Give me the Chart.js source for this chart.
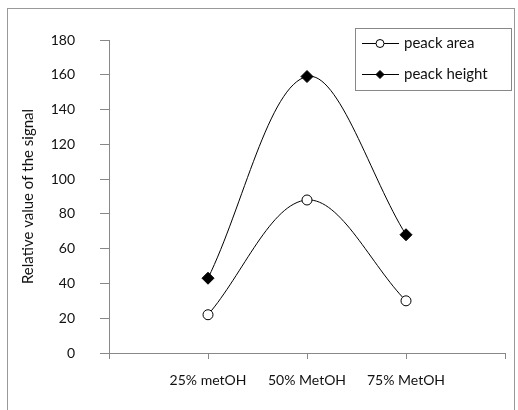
<!DOCTYPE html>
<html>
<head>
<meta charset="utf-8">
<script src="https://cdn.jsdelivr.net/npm/chart.js@4"></script>
<style>
  html, body { margin: 0; padding: 0; background: #fff; }
  #wrap { width: 518px; height: 410px; position: relative; }
</style>
</head>
<body>
<div id="wrap"><canvas id="grafico"></canvas></div>
<script>
// Dados do gráfico
const categorias = ['25% metOH', '50% MetOH', '75% MetOH'];
const posicoes = [1, 2, 3];
const peackArea = [22, 88, 30];
const peackHeight = [43, 159, 68];
const ticksY = [0, 20, 40, 60, 80, 100, 120, 140, 160, 180];

const fonte = 'Lato, "Open Sans", sans-serif';

// Moldura externa e legenda dentro do gráfico
const molduraPlugin = {
    id: 'moldura',
    afterDraw(chart) {
        const ctx = chart.ctx;
        ctx.save();
        ctx.strokeStyle = '#999';
        ctx.lineWidth = 1;
        ctx.strokeRect(7.5, 8.5, 507, 420);

        // legenda
        ctx.strokeStyle = '#888';
        ctx.strokeRect(355.5, 28.5, 156, 62);
        const linhas = [43, 74];
        chart.data.datasets.forEach((ds, i) => {
            const y = linhas[i];
            ctx.strokeStyle = '#000';
            ctx.lineWidth = 1;
            ctx.beginPath();
            ctx.moveTo(362, y + 0.5);
            ctx.lineTo(399, y + 0.5);
            ctx.stroke();
            ctx.fillStyle = ds.pointBackgroundColor;
            ctx.strokeStyle = '#000';
            Chart.helpers.drawPoint(ctx, {
                pointStyle: ds.pointStyle,
                radius: 4,
                rotation: 0,
                borderWidth: 1
            }, 380, y + 0.5);
            ctx.fillStyle = '#111';
            ctx.font = '15px ' + fonte;
            ctx.textBaseline = 'middle';
            ctx.textAlign = 'left';
            ctx.fillText(ds.label, 404, y);
        });
        ctx.restore();
    }
};

new Chart(document.getElementById('grafico'), {
    type: 'line',
    data: {
        datasets: [
            {
                label: 'peack area',
                data: posicoes.map((x, i) => ({ x: x, y: peackArea[i] })),
                borderColor: '#000',
                borderWidth: 1,
                pointStyle: 'circle',
                pointRadius: 5,
                pointBackgroundColor: '#fff',
                pointBorderColor: '#000',
                pointBorderWidth: 1,
                tension: 0.35
            },
            {
                label: 'peack height',
                data: posicoes.map((x, i) => ({ x: x, y: peackHeight[i] })),
                borderColor: '#000',
                borderWidth: 1,
                pointStyle: 'rectRot',
                pointRadius: 6,
                pointBackgroundColor: '#000',
                pointBorderColor: '#000',
                pointBorderWidth: 1,
                tension: 0.35
            }
        ]
    },
    options: {
        responsive: true,
        maintainAspectRatio: false,
        animation: false,
        layout: { padding: { left: 0, right: 10, top: 40, bottom: 0 } },
        plugins: {
            legend: { display: false },
            tooltip: { enabled: false }
        },
        scales: {
            x: {
                type: 'linear',
                min: 0,
                max: 4,
                afterFit: function(scale) { scale.height = 57; },
                afterBuildTicks: function(scale) {
                    scale.ticks = [0, 1, 2, 3, 4].map(v => ({ value: v }));
                },
                ticks: {
                    padding: 13,
                    color: '#111',
                    font: { family: fonte, size: 14 },
                    maxRotation: 0,
                    callback: function(value) {
                        const idx = posicoes.indexOf(value);
                        return idx >= 0 ? categorias[idx] : '';
                    }
                },
                grid: {
                    drawOnChartArea: false,
                    drawTicks: true,
                    tickLength: 6,
                    color: '#888'
                },
                border: { color: '#888' }
            },
            y: {
                min: 0,
                max: 180,
                afterFit: function(scale) { scale.width = 109; },
                afterBuildTicks: function(scale) {
                    scale.ticks = ticksY.map(v => ({ value: v }));
                },
                ticks: {
                    padding: 25,
                    color: '#111',
                    font: { family: fonte, size: 14 }
                },
                grid: {
                    drawOnChartArea: false,
                    drawTicks: true,
                    tickLength: 9,
                    color: '#888'
                },
                border: { color: '#888' },
                title: {
                    display: true,
                    text: 'Relative value of the signal',
                    color: '#111',
                    font: { family: fonte, size: 15 },
                    padding: { top: 19, bottom: 0 }
                }
            }
        }
    },
    plugins: [molduraPlugin]
});
</script>
</body>
</html>
